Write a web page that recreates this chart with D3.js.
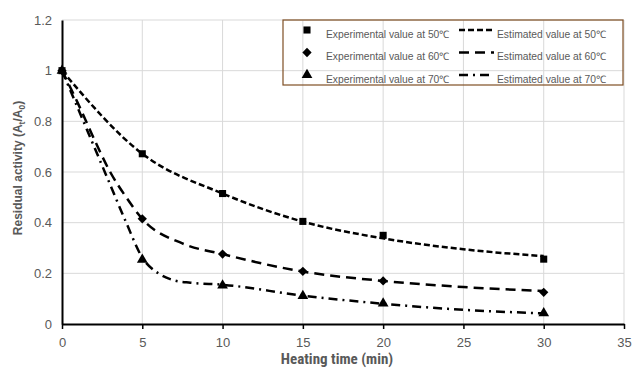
<!DOCTYPE html>
<html>
<head>
<meta charset="utf-8">
<script src="https://cdn.jsdelivr.net/npm/d3@7"></script>
<style>
  body { margin: 0; background: #fff; }
  svg { display: block; }
</style>
</head>
<body>
<div id="chart"></div>
<script>
// heating time points (min)
const times = [0, 5, 10, 15, 20, 30];
const exp50 = [1, 0.672, 0.515, 0.405, 0.35, 0.256];
const exp60 = [1, 0.415, 0.276, 0.208, 0.17, 0.125];
const exp70 = [1, 0.254, 0.152, 0.111, 0.081, 0.043];

// estimated (model) curves
const est50x = [0, 5, 10, 15, 20, 25, 30];
const est50y = [1, 0.672, 0.515, 0.404, 0.338, 0.295, 0.268];
const est60x = [0, 1, 2, 3, 4, 5, 7.5, 10, 15, 20, 25, 30];
const est60y = [1, 0.87, 0.73, 0.6, 0.5, 0.415, 0.318, 0.276, 0.207, 0.17, 0.146, 0.13];
const est70x = [0, 1, 2, 3, 4, 5, 6, 7, 8, 10, 15, 20, 25, 30];
const est70y = [1, 0.85, 0.70, 0.55, 0.40, 0.262, 0.2, 0.172, 0.163, 0.155, 0.112, 0.08, 0.056, 0.042];

const xTicks = [0, 5, 10, 15, 20, 25, 30, 35];
const yTicks = [0, 0.2, 0.4, 0.6, 0.8, 1, 1.2];
const legendExp = ["Experimental value at 50\u2103", "Experimental value at 60\u2103", "Experimental value at 70\u2103"];
const legendEst = ["Estimated value at 50\u2103", "Estimated value at 60\u2103", "Estimated value at 70\u2103"];

const w = 633, h = 369;
const grey = "#595959";
const font = "'Liberation Sans', Arial, sans-serif";

const svg = d3.select("#chart").append("svg")
  .attr("width", w).attr("height", h);

const x = d3.scaleLinear().domain([0, 35]).range([62, 624]);
const y = d3.scaleLinear().domain([0, 1.2]).range([324, 20]);

// gridlines
svg.append("g").selectAll("line").data(yTicks.slice(1)).enter().append("line")
  .attr("x1", x(0)).attr("x2", x(35))
  .attr("y1", d => y(d)).attr("y2", d => y(d))
  .attr("stroke", "#d9d9d9").attr("stroke-width", 1);
svg.append("g").selectAll("line").data(xTicks.slice(1)).enter().append("line")
  .attr("x1", d => x(d)).attr("x2", d => x(d))
  .attr("y1", y(0)).attr("y2", y(1.2))
  .attr("stroke", "#d9d9d9").attr("stroke-width", 1);

// axes
const xAxis = svg.append("g").attr("transform", `translate(0,${y(0)})`)
  .call(d3.axisBottom(x).tickValues(xTicks).tickSize(5).tickSizeOuter(0).tickPadding(9));
xAxis.select(".domain").attr("stroke", "#000").attr("stroke-width", 2);
xAxis.selectAll(".tick line").attr("stroke", "#000").attr("stroke-width", 1.5);
xAxis.selectAll("text").attr("font-family", font).attr("font-size", 13).attr("fill", grey);

const yAxis = svg.append("g").attr("transform", `translate(${x(0)},0)`)
  .call(d3.axisLeft(y).tickValues(yTicks).tickSize(0).tickPadding(10).tickFormat(d => String(d)));
yAxis.select(".domain").attr("stroke", "#000").attr("stroke-width", 2);
yAxis.selectAll("text").attr("font-family", font).attr("font-size", 13).attr("fill", grey);

// axis titles
svg.append("text")
  .attr("x", x(17.5) - 6).attr("y", 364)
  .attr("text-anchor", "middle")
  .attr("font-family", "'Liberation Sans Narrow', 'Roboto Condensed', " + font)
  .attr("font-weight", "bold").attr("font-size", 15).attr("fill", grey)
  .text("Heating time (min)");

const yl = svg.append("text")
  .attr("transform", "translate(22,168) rotate(-90)")
  .attr("text-anchor", "middle")
  .attr("font-family", font).attr("font-weight", "bold").attr("font-size", 12).attr("fill", grey);
yl.append("tspan").text("Residual activity (A");
yl.append("tspan").attr("font-size", 8.5).attr("dy", 3).text("t");
yl.append("tspan").attr("dy", -3).text("/A");
yl.append("tspan").attr("font-size", 8.5).attr("dy", 3).text("0");
yl.append("tspan").attr("dy", -3).text(")");

// estimated curves
const dashes = ["6,3", "10,6", "9,5,2,5"];
const estX = [est50x, est60x, est70x];
const estY = [est50y, est60y, est70y];
const line = d3.line().x(d => x(d[0])).y(d => y(d[1])).curve(d3.curveMonotoneX);
estX.forEach((xs, i) => {
  svg.append("path")
    .datum(xs.map((t, j) => [t, estY[i][j]]))
    .attr("d", line)
    .attr("fill", "none").attr("stroke", "#000")
    .attr("stroke-width", 2.5).attr("stroke-dasharray", dashes[i]);
});

// experimental markers
const symbols = [d3.symbolSquare, d3.symbolDiamond2, d3.symbolTriangle];
const sizes = [50, 55, 50];
[exp50, exp60, exp70].forEach((vals, i) => {
  svg.append("g").selectAll("path").data(vals).enter().append("path")
    .attr("transform", (d, j) => `translate(${x(times[j])},${y(d)})`)
    .attr("d", d3.symbol().type(symbols[i]).size(sizes[i]))
    .attr("fill", "#000");
});

// legend
const lg = svg.append("g").attr("id", "legend");
lg.append("rect")
  .attr("x", 283).attr("y", 20).attr("width", 340).attr("height", 65)
  .attr("fill", "none").attr("stroke", "#7f4f24").attr("stroke-width", 1.2);
[0, 1, 2].forEach(i => {
  const ry = 30 + i * 22.5;
  lg.append("path")
    .attr("transform", `translate(307,${ry})`)
    .attr("d", d3.symbol().type(symbols[i]).size(sizes[i]))
    .attr("fill", "#000");
  lg.append("text").attr("x", 326).attr("y", ry + 7.5)
    .attr("font-family", font).attr("font-size", 10.3).attr("fill", grey)
    .text(legendExp[i]);
  lg.append("line")
    .attr("x1", 459).attr("x2", 494).attr("y1", ry).attr("y2", ry)
    .attr("stroke", "#000").attr("stroke-width", 2.5).attr("stroke-dasharray", dashes[i]);
  lg.append("text").attr("x", 497).attr("y", ry + 7.5)
    .attr("font-family", font).attr("font-size", 10.3).attr("fill", grey)
    .text(legendEst[i]);
});
</script>
</body>
</html>
